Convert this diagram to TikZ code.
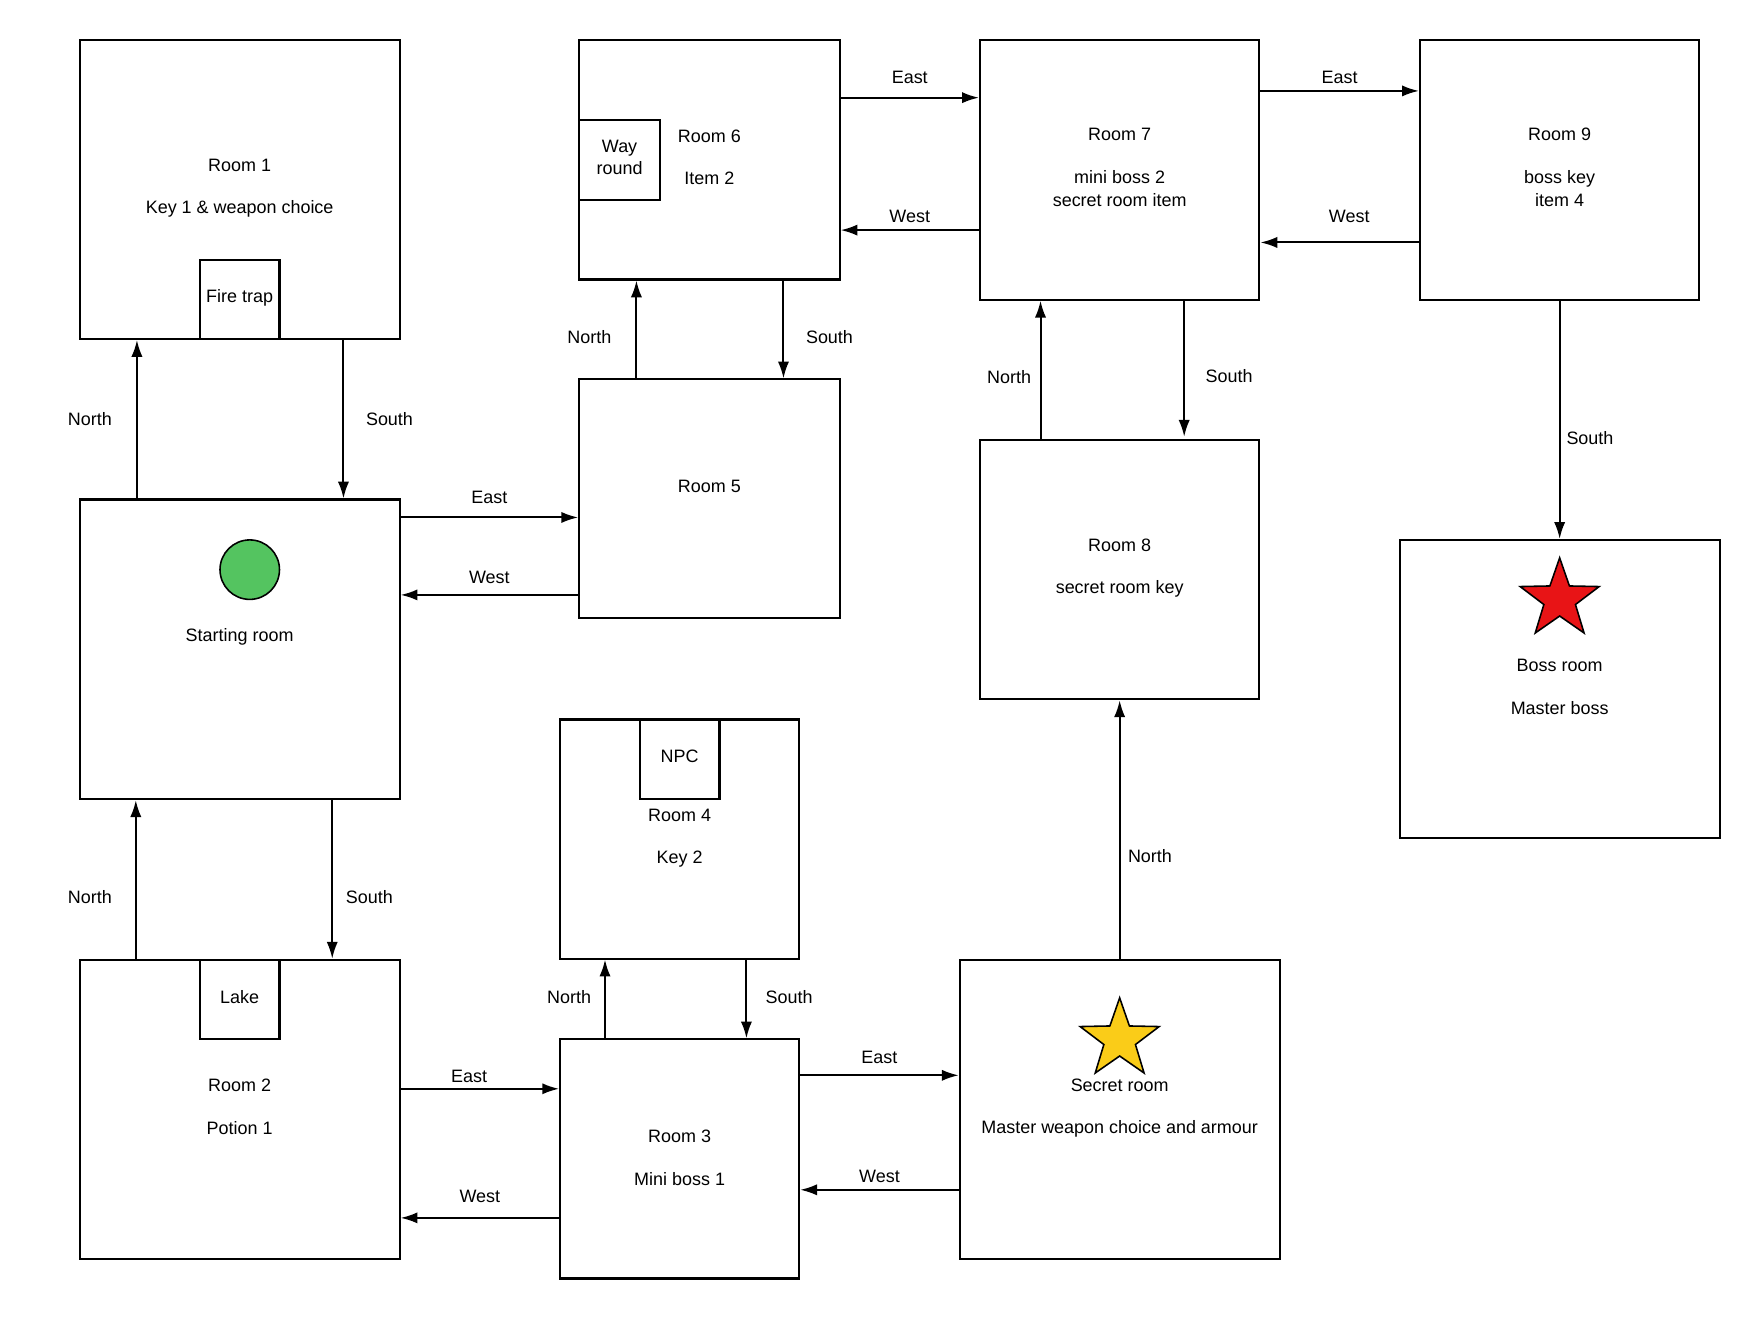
\documentclass[tikz,border=0pt]{standalone}
\usepackage{fontspec}
\setmainfont{Liberation Sans}
\usetikzlibrary{arrows.meta,shapes.geometric}
\definecolor{startgreen}{RGB}{84,196,96}
\definecolor{bossred}{RGB}{232,20,22}
\definecolor{secretyellow}{RGB}{250,204,24}
\tikzset{
  room/.style={draw=black, line width=1.8pt, rectangle, inner sep=0pt, fill=white},
  sub/.style={draw=black, line width=1.8pt, rectangle, inner sep=0pt, minimum width=71pt, minimum height=71pt, align=center},
  txt/.style={inner sep=0pt, align=center, font=\fontsize{16pt}{20pt}\selectfont},
  lbl/.style={inner sep=0pt, font=\fontsize{16pt}{20pt}\selectfont},
  arr/.style={line width=1.8pt, -{Latex[length=15pt,width=10pt]}},
  starbox/.style={star, star points=5, star point ratio=2.5, minimum size=74pt, inner sep=0pt, draw=black, line width=1.4pt}
}
\begin{document}
\begin{tikzpicture}[x=1pt,y=-1pt]
\useasboundingbox[fill=white] (0,0) rectangle (1568,1176);
% rooms
\node[room, minimum width=285pt, minimum height=266pt] (r1) at (213.5,169) {};
\node[room, minimum width=285pt, minimum height=267pt] (start) at (213.5,578.5) {};
\node[room, minimum width=285pt, minimum height=267pt] (r2) at (213.5,988.5) {};
\node[room, minimum width=232pt, minimum height=213pt] (r5) at (632,444.5) {};
\node[room, minimum width=232pt, minimum height=213pt] (r6) at (632,142.5) {};
\node[room, minimum width=213pt, minimum height=213pt] (r4) at (605.5,747.5) {};
\node[room, minimum width=213pt, minimum height=213pt] (r3) at (605.5,1032.5) {};
\node[room, minimum width=249pt, minimum height=231pt] (r7) at (997.5,151.5) {};
\node[room, minimum width=249pt, minimum height=231pt] (r8) at (997.5,507.5) {};
\node[room, minimum width=249pt, minimum height=231pt] (r9) at (1389.5,151.5) {};
\node[room, minimum width=285pt, minimum height=266pt] (boss) at (1389.5,614) {};
\node[room, minimum width=285pt, minimum height=267pt] (secret) at (997.5,988.5) {};
% sub boxes
\node[sub, minimum height=70pt] (fire) at (213.5,267) {};
\node[txt] (firet) at (213.5,265) {Fire trap};
\node[sub] (lake) at (213.5,890.5) {};
\node[txt] (laket) at (213.5,888) {Lake};
\node[sub, minimum width=72pt] (way) at (552,142.5) {};
\node[txt] (wayt) at (552,140) {Way\\round};
\node[sub] (npc) at (605.5,676.5) {};
\node[txt] (npct) at (605.5,674) {NPC};
% room texts
\node[txt] (r1a) at (213.5,147) {Room 1};
\node[txt] (r1b) at (213.5,186) {Key 1 \& weapon choice};
\node[circle, draw=black, line width=1.4pt, fill=startgreen, minimum size=53pt, inner sep=0pt] (dot) at (222.5,507.5) {};
\node[txt] (sa) at (213.5,567) {Starting room};
\node[txt] (r2a) at (213.5,967) {Room 2};
\node[txt] (r2b) at (213.5,1005) {Potion 1};
\node[txt] (r3a) at (605.5,1012) {Room 3};
\node[txt] (r3b) at (605.5,1050) {Mini boss 1};
\node[txt] (r4a) at (605.5,726) {Room 4};
\node[txt] (r4b) at (605.5,765) {Key 2};
\node[txt] (r5a) at (632,433) {Room 5};
\node[txt] (r6a) at (632,121) {Room 6};
\node[txt] (r6b) at (632,159) {Item 2};
\node[txt] (r7a) at (997.5,120) {Room 7};
\node[txt] (r7b) at (997.5,168) {mini boss 2\\secret room item};
\node[txt] (r8a) at (997.5,486) {Room 8};
\node[txt] (r8b) at (997.5,525) {secret room key};
\node[txt] (r9a) at (1389.5,120) {Room 9};
\node[txt] (r9b) at (1389.5,168) {boss key\\item 4};
\node[starbox, fill=bossred] (rstar) at (1389.5,534) {};
\node[txt] (ba) at (1389.5,593) {Boss room};
\node[txt] (bb) at (1389.5,631) {Master boss};
\node[starbox, fill=secretyellow] (ystar) at (997.5,926) {};
\node[txt] (sra) at (997.5,967) {Secret room};
\node[txt] (srb) at (997.5,1006) {Master weapon choice and armour};
% connectors
\draw[arr] ([xshift=-91.5pt]start.north) -- node[lbl, xshift=-42pt] {North} ([xshift=-91.5pt]r1.south);
\draw[arr] ([xshift=92.5pt]r1.south) -- node[lbl, xshift=41pt] {South} ([xshift=92.5pt]start.north);
\draw[arr] ([yshift=117.5pt]start.east) -- node[lbl, yshift=18pt] {East} ([yshift=-16.5pt]r5.west);
\draw[arr] ([yshift=-85.5pt]r5.west) -- node[lbl, yshift=16pt] {West} ([yshift=48.5pt]start.east);
\draw[arr] ([xshift=-65pt]r5.north) -- node[lbl, xshift=-42pt, yshift=-6.5pt] {North} ([xshift=-65pt]r6.south);
\draw[arr] ([xshift=66pt]r6.south) -- node[lbl, xshift=41pt, yshift=-6.5pt] {South} ([xshift=66pt]r5.north);
\draw[arr] ([yshift=55.5pt]r6.east) -- node[lbl, yshift=18pt] {East} ([yshift=64.5pt]r7.west);
\draw[arr] ([yshift=-53.5pt]r7.west) -- node[lbl, yshift=12pt] {West} ([yshift=-62.5pt]r6.east);
\draw[arr] ([yshift=70.5pt]r7.east) -- node[lbl, yshift=12pt] {East} ([yshift=70.5pt]r9.west);
\draw[arr] ([yshift=-64.5pt]r9.west) -- node[lbl, xshift=8.5pt, yshift=23pt] {West} ([yshift=-64.5pt]r7.east);
\draw[arr] ([xshift=-70.5pt]r8.north) -- node[lbl, xshift=-28pt, yshift=-6.5pt] {North} ([xshift=-70.5pt]r7.south);
\draw[arr] ([xshift=57.5pt]r7.south) -- node[lbl, xshift=40pt, yshift=-6.5pt] {South} ([xshift=57.5pt, yshift=2pt]r8.north);
\draw[arr] (r9.south) -- node[lbl, xshift=27pt, yshift=-16pt] {South} (boss.north);
\draw[arr] ([xshift=82.5pt]start.south) -- node[lbl, xshift=33pt, yshift=-15.5pt] {South} ([xshift=82.5pt]r2.north);
\draw[arr] ([xshift=-92.5pt]r2.north) -- node[lbl, xshift=-41pt, yshift=-15.5pt] {North} ([xshift=-92.5pt]start.south);
\draw[arr] ([yshift=18.5pt]r2.east) -- node[lbl, xshift=-9.5pt, yshift=11pt] {East} ([yshift=62.5pt]r3.west);
\draw[arr] ([yshift=-52.5pt]r3.west) -- node[lbl, yshift=19pt] {West} ([yshift=-96.5pt]r2.east);
\draw[arr] ([xshift=-66.5pt]r3.north) -- node[lbl, xshift=-32pt, yshift=2pt] {North} ([xshift=-66.5pt]r4.south);
\draw[arr] ([xshift=59.5pt]r4.south) -- node[lbl, xshift=38pt, yshift=2pt] {South} ([xshift=59.5pt]r3.north);
\draw[arr] ([yshift=74.5pt]r3.east) -- node[lbl, yshift=16pt] {East} ([yshift=30.5pt]secret.west);
\draw[arr] ([yshift=-71.5pt]secret.west) -- node[lbl, yshift=12pt] {West} ([yshift=-27.5pt]r3.east);
\draw[arr] (secret.north) -- node[lbl, xshift=27pt, yshift=-24pt] {North} (r8.south);
\end{tikzpicture}
\end{document}
